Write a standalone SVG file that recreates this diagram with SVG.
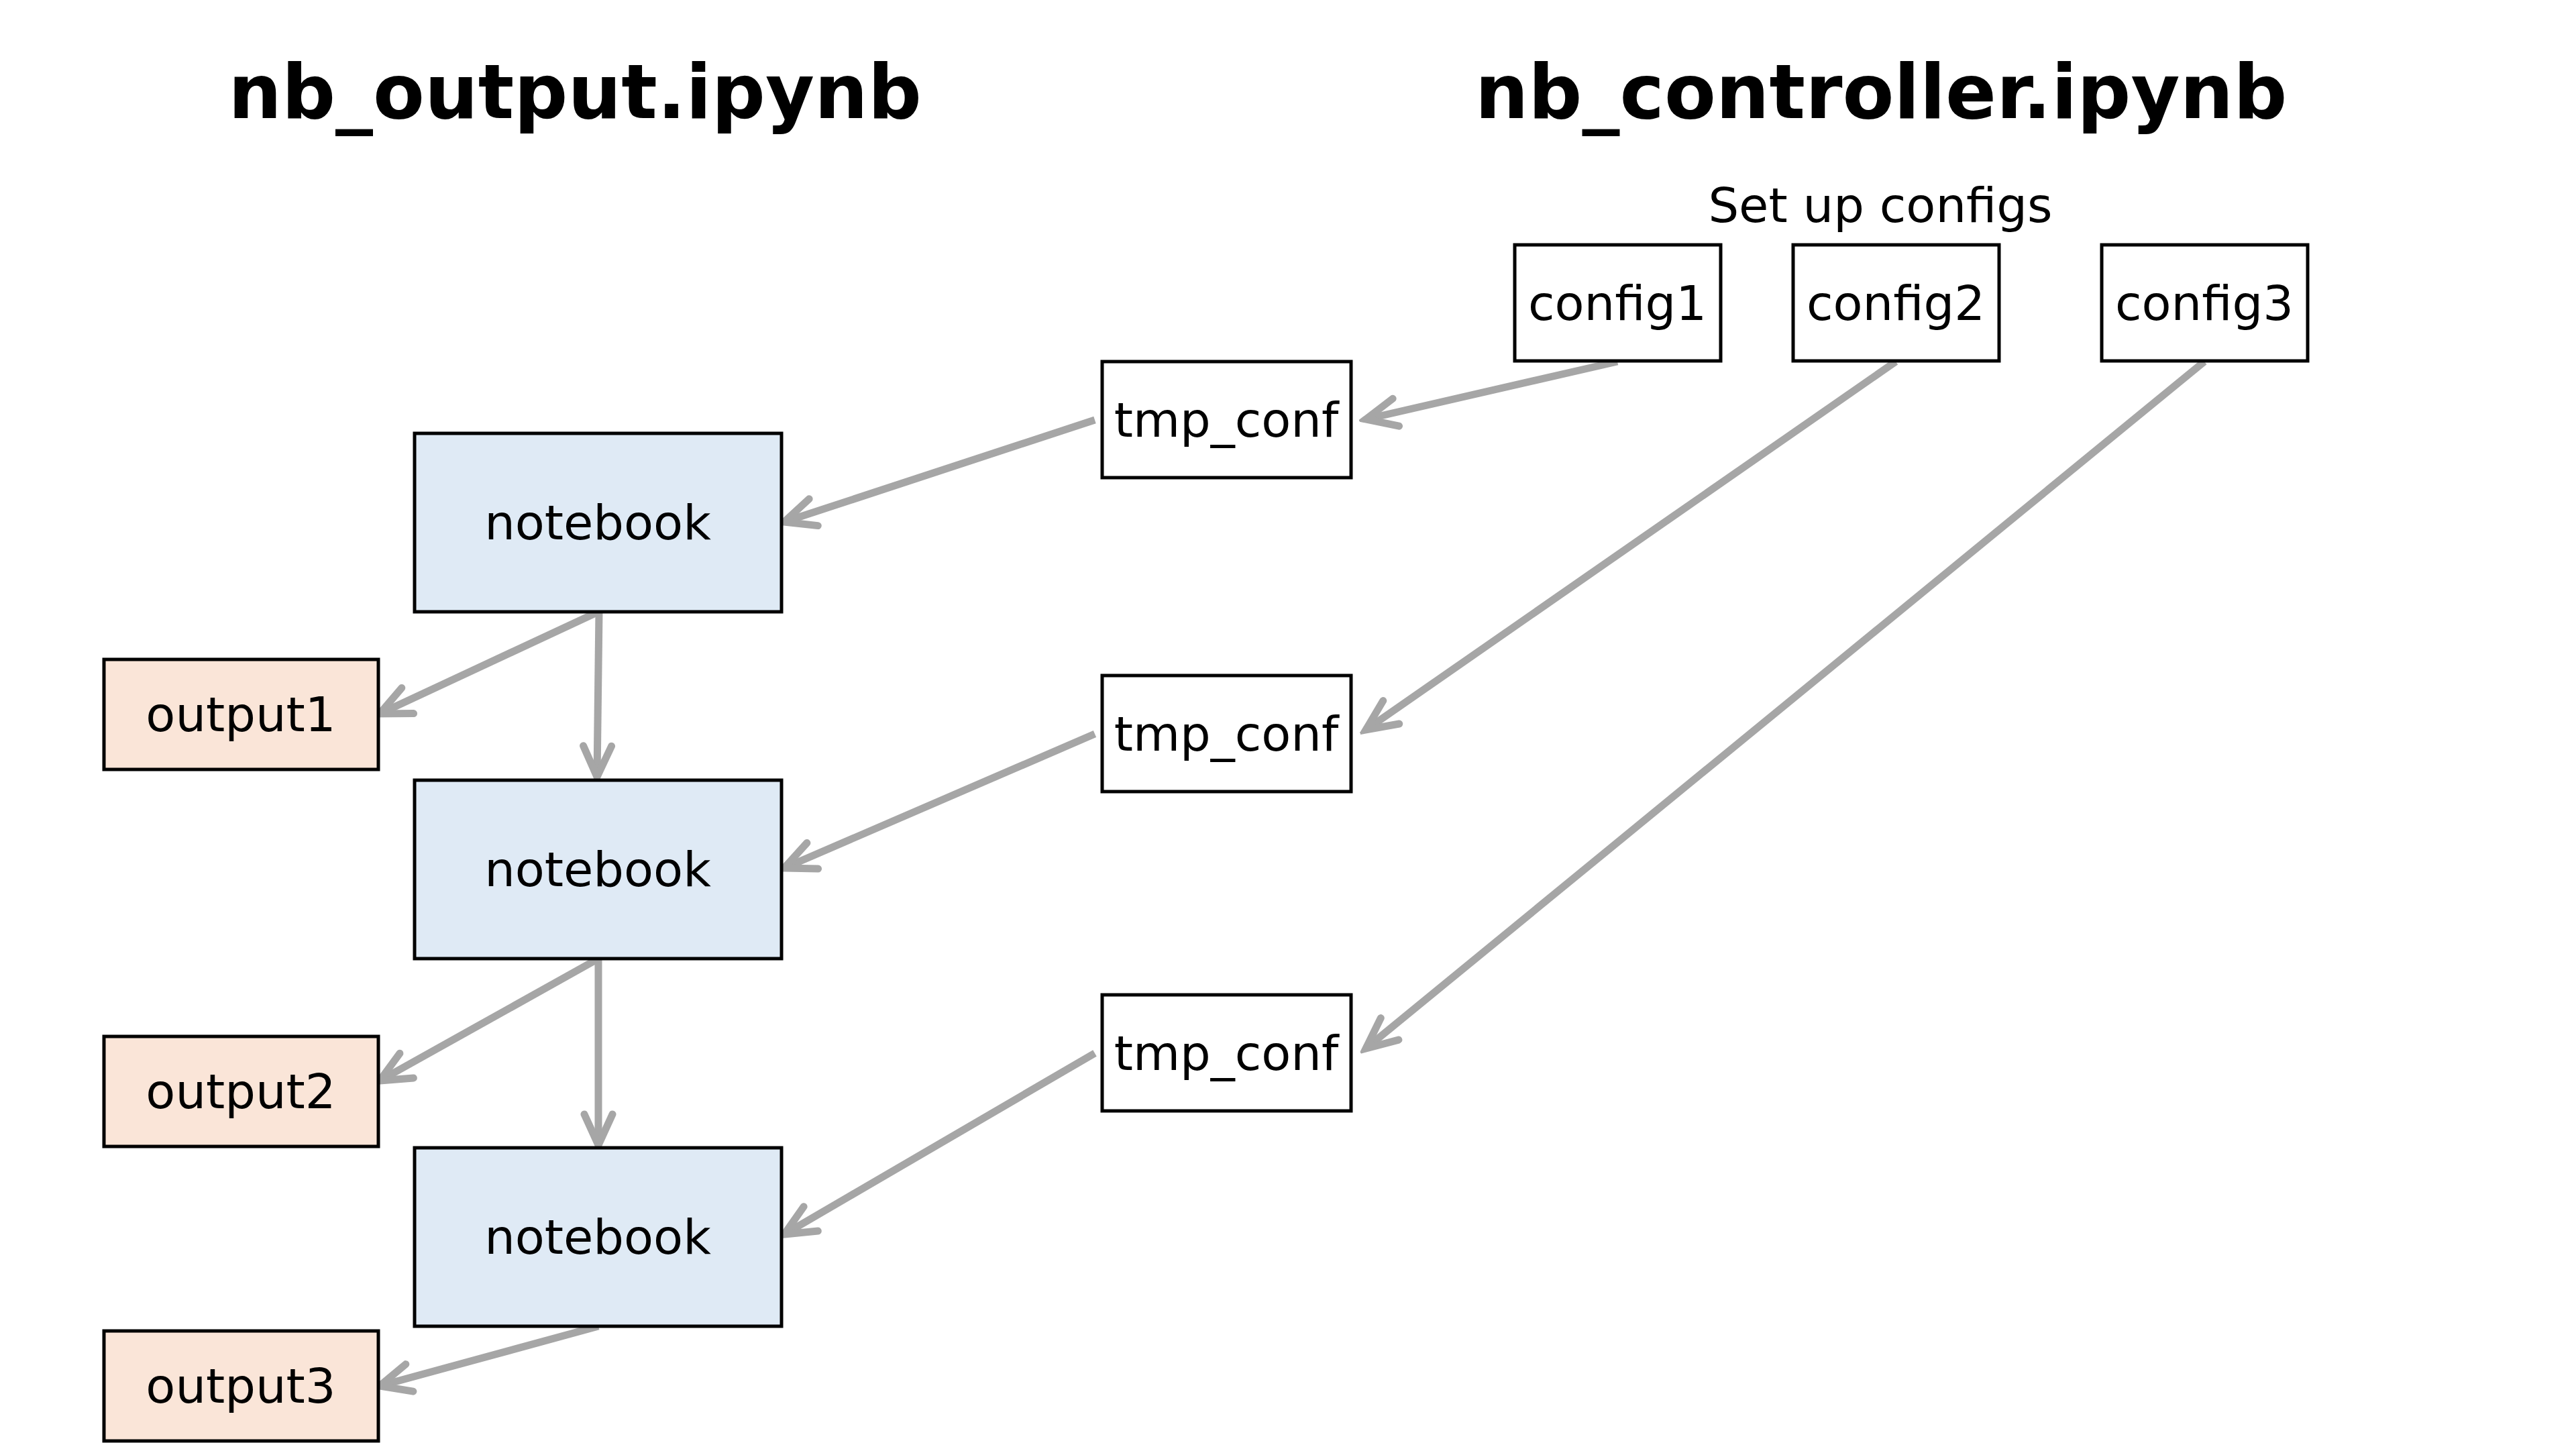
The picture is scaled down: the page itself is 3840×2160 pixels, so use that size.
<svg xmlns="http://www.w3.org/2000/svg" width="3840" height="2160" viewBox="0 0 3840 2160">
<style>
.title{font-family:"DejaVu Sans",sans-serif;font-weight:bold;font-size:112px;fill:#000;text-anchor:middle}
.sub{font-family:"DejaVu Sans",sans-serif;font-size:72px;fill:#000;text-anchor:middle}
.lbl{font-family:"DejaVu Sans",sans-serif;font-size:72px;fill:#000;text-anchor:middle;dominant-baseline:central}
.box{stroke:#000;stroke-width:5}
.plain{fill:#fff}
.nb{fill:#dfeaf5}
.out{fill:#fae5d8}
.edge{stroke:#a6a6a6;stroke-width:11;fill:none;marker-end:url(#arr)}
</style>
<defs>
<marker id="arr" markerUnits="userSpaceOnUse" viewBox="-60 -30 70 60" markerWidth="70" markerHeight="60" refX="0" refY="0" orient="auto">
<path d="M -46 -21 L 0 0 L -46 21" fill="none" stroke="#a6a6a6" stroke-width="11" stroke-linecap="round" stroke-linejoin="miter"/>
</marker>
</defs>
<rect width="3840" height="2160" fill="#fff"/>
<text class="title" x="857" y="176">nb_output.ipynb</text>
<text class="title" x="2804" y="176">nb_controller.ipynb</text>
<text class="sub" x="2803" y="331">Set up configs</text>
<g id="edges">
<line class="edge" x1="2411" y1="539" x2="2036" y2="625"/>
<line class="edge" x1="2826" y1="539" x2="2036" y2="1088"/>
<line class="edge" x1="3286" y1="539" x2="2036" y2="1563"/>
<line class="edge" x1="1632" y1="626" x2="1169" y2="778"/>
<line class="edge" x1="1632" y1="1094" x2="1169" y2="1294"/>
<line class="edge" x1="1632" y1="1570" x2="1169" y2="1840"/>
<line class="edge" x1="892" y1="912" x2="566" y2="1064"/>
<line class="edge" x1="893" y1="912" x2="890" y2="1158"/>
<line class="edge" x1="892" y1="1429" x2="566" y2="1611"/>
<line class="edge" x1="892" y1="1429" x2="892" y2="1707"/>
<line class="edge" x1="892" y1="1977" x2="566" y2="2066"/>
</g>
<g id="config1"><rect class="box plain" x="2258" y="365" width="307" height="173"/><text class="lbl" x="2411" y="452">config1</text></g>
<g id="config2"><rect class="box plain" x="2673" y="365" width="307" height="173"/><text class="lbl" x="2826" y="452">config2</text></g>
<g id="config3"><rect class="box plain" x="3133" y="365" width="307" height="173"/><text class="lbl" x="3286" y="452">config3</text></g>
<g id="tmp_conf1"><rect class="box plain" x="1643" y="539" width="371" height="173"/><text class="lbl" x="1828" y="626">tmp_conf</text></g>
<g id="tmp_conf2"><rect class="box plain" x="1643" y="1007" width="371" height="173"/><text class="lbl" x="1828" y="1094">tmp_conf</text></g>
<g id="tmp_conf3"><rect class="box plain" x="1643" y="1483" width="371" height="173"/><text class="lbl" x="1828" y="1570">tmp_conf</text></g>
<g id="notebook1"><rect class="box nb" x="618" y="646" width="547" height="266"/><text class="lbl" x="891" y="779">notebook</text></g>
<g id="notebook2"><rect class="box nb" x="618" y="1163" width="547" height="266"/><text class="lbl" x="891" y="1296">notebook</text></g>
<g id="notebook3"><rect class="box nb" x="618" y="1711" width="547" height="266"/><text class="lbl" x="891" y="1844">notebook</text></g>
<g id="output1"><rect class="box out" x="155" y="983" width="409" height="164"/><text class="lbl" x="359" y="1065">output1</text></g>
<g id="output2"><rect class="box out" x="155" y="1545" width="409" height="164"/><text class="lbl" x="359" y="1627">output2</text></g>
<g id="output3"><rect class="box out" x="155" y="1984" width="409" height="164"/><text class="lbl" x="359" y="2066">output3</text></g>
</svg>
